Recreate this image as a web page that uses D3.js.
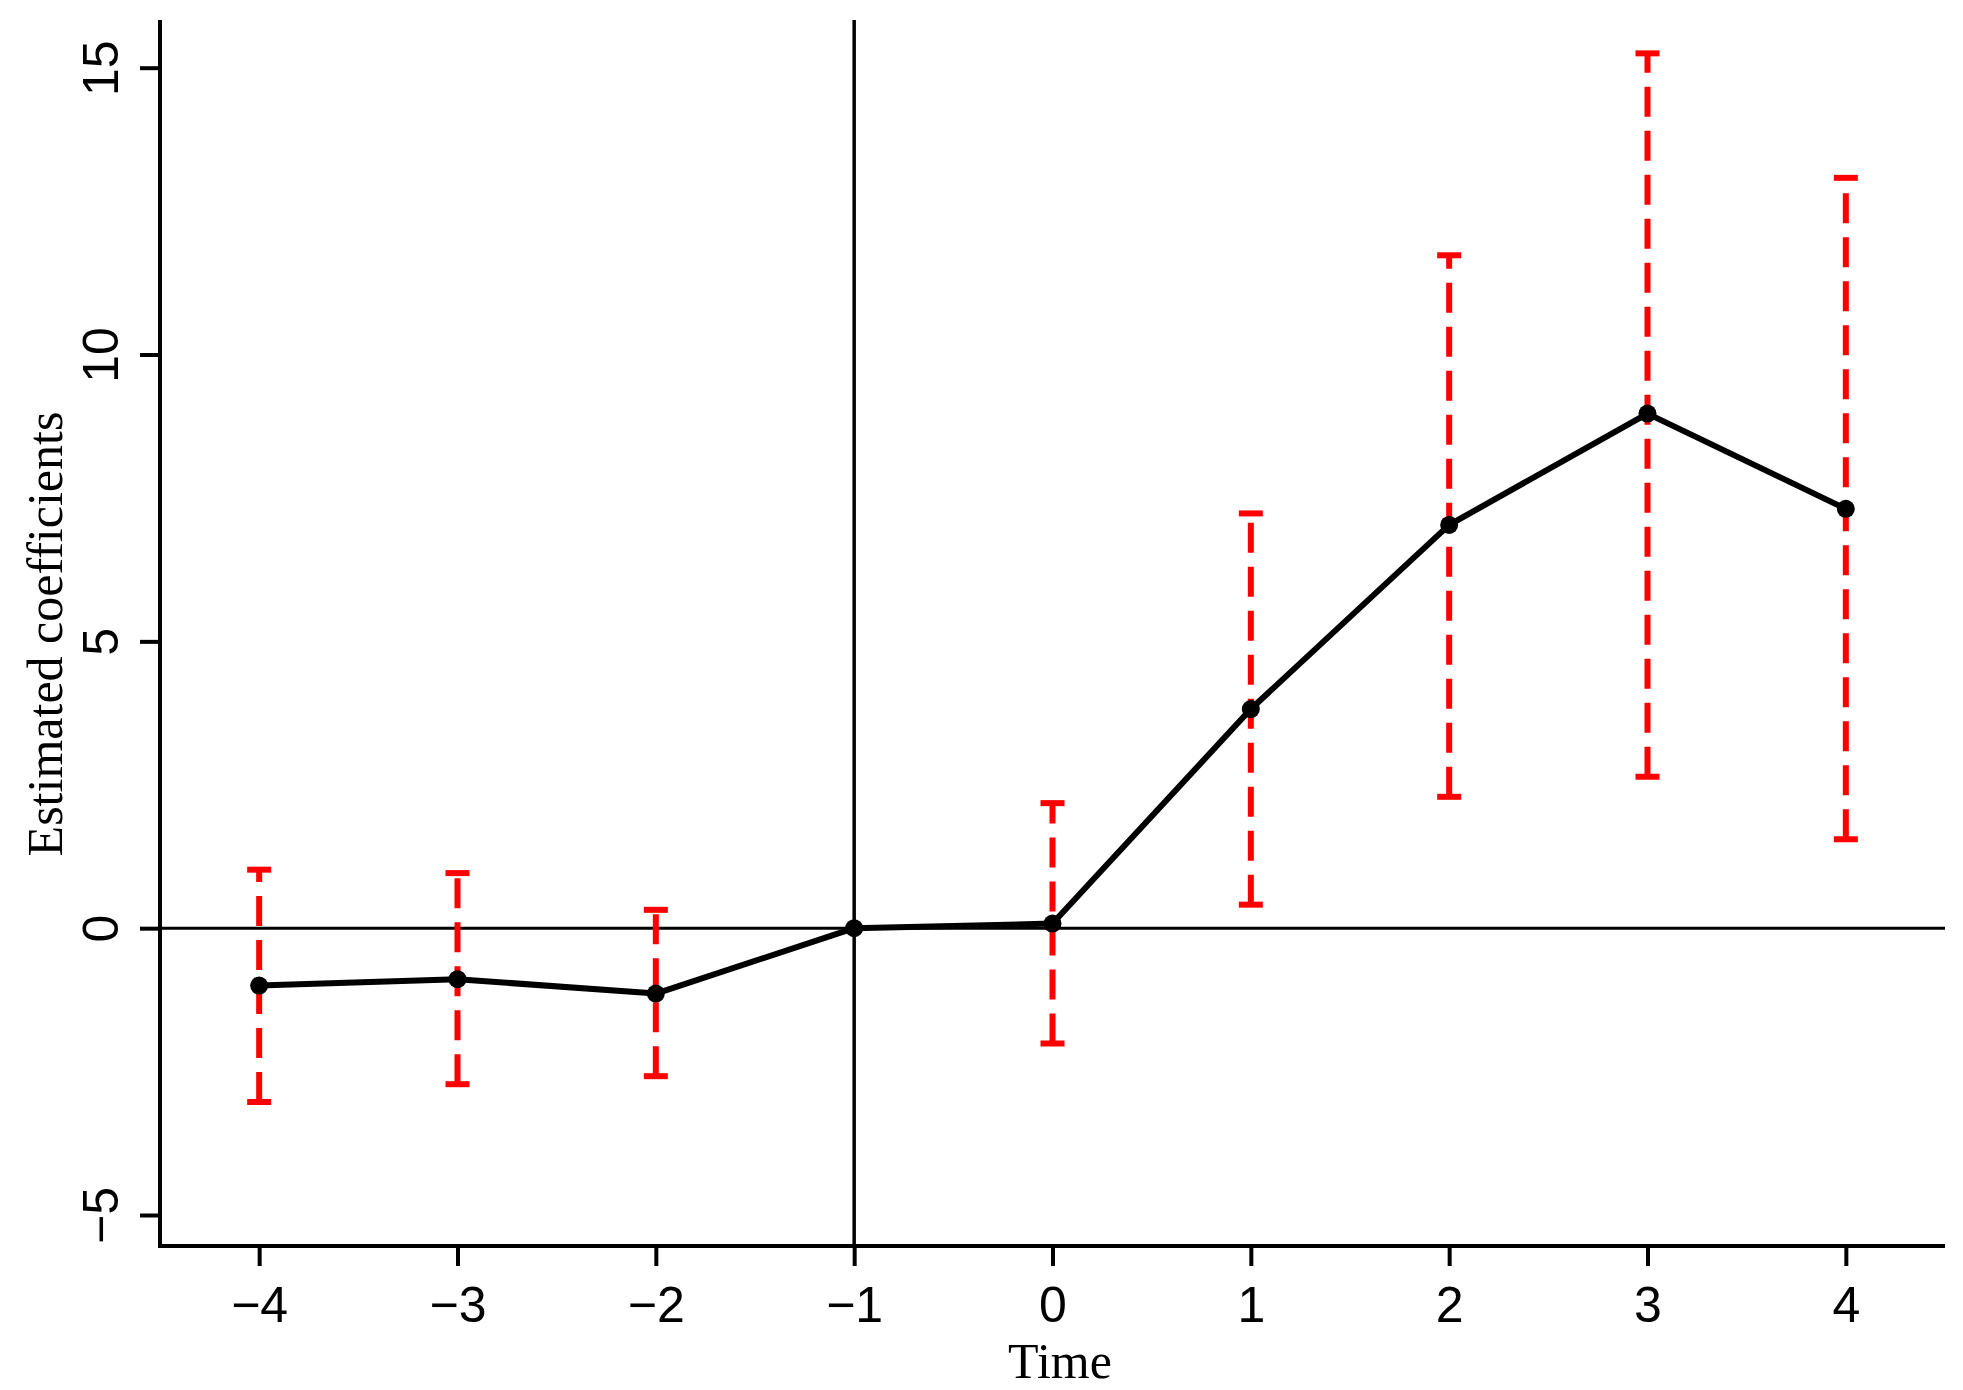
<!DOCTYPE html>
<html>
<head>
<meta charset="utf-8">
<script src="https://cdn.jsdelivr.net/npm/d3@7"></script>
<style>
  html, body { margin: 0; padding: 0; background: #fff; }
  svg { display: block; }
</style>
</head>
<body>
<svg id="chart" width="1963" height="1390"></svg>
<script>
// ---- Data ----
const time = [-4, -3, -2, -1, 0, 1, 2, 3, 4];
const estimate = [-1.00, -0.89, -1.14, 0, 0.08, 3.82, 7.03, 8.97, 7.31];
const lower = [-3.03, -2.72, -2.58, null, -2.01, 0.41, 2.29, 2.64, 1.55];
const upper = [1.02, 0.96, 0.32, null, 2.18, 7.23, 11.73, 15.25, 13.08];
const xTicks = [-4, -3, -2, -1, 0, 1, 2, 3, 4];
const yTicks = [-5, 0, 5, 10, 15];
const xTitle = "Time";
const yTitle = "Estimated coefficients";

(function () {
// ---- Layout ----
const pL = 160, pR = 1945, pT = 20, pB = 1246;

const svg = d3.select("#chart");

const x = d3.scaleLinear().domain([-4.5, 4.5]).range([pL, pR]);
const y = d3.scaleLinear().domain([-5, 15]).range([1215, 67.7]);

const sans = "'Liberation Sans', Arial, Helvetica, sans-serif";
const serif = "'Liberation Serif', 'Times New Roman', Times, serif";

// Reference lines
svg.append("line")
  .attr("x1", pL).attr("x2", pR)
  .attr("y1", y(0)).attr("y2", y(0))
  .attr("stroke", "#000").attr("stroke-width", 3);
svg.append("line")
  .attr("x1", x(-1)).attr("x2", x(-1))
  .attr("y1", pT).attr("y2", pB)
  .attr("stroke", "#000").attr("stroke-width", 3.5);

// Error bars
const eb = time.map((t, i) => ({ t, lo: lower[i], hi: upper[i] })).filter(d => d.lo !== null);
const capW = 12;
svg.append("g").selectAll("line").data(eb).join("line")
  .attr("x1", d => x(d.t)).attr("x2", d => x(d.t))
  .attr("y1", d => y(d.lo)).attr("y2", d => y(d.hi))
  .attr("stroke", "#ff0000").attr("stroke-width", 6)
  .attr("stroke-dasharray", "30,14");
svg.append("g").selectAll("line").data(eb).join("line")
  .attr("x1", d => x(d.t) - capW).attr("x2", d => x(d.t) + capW)
  .attr("y1", d => y(d.lo)).attr("y2", d => y(d.lo))
  .attr("stroke", "#ff0000").attr("stroke-width", 6);
svg.append("g").selectAll("line").data(eb).join("line")
  .attr("x1", d => x(d.t) - capW).attr("x2", d => x(d.t) + capW)
  .attr("y1", d => y(d.hi)).attr("y2", d => y(d.hi))
  .attr("stroke", "#ff0000").attr("stroke-width", 6);

// Estimate line
const pts = time.map((t, i) => ({ t, v: estimate[i] }));
svg.append("path")
  .datum(pts)
  .attr("fill", "none").attr("stroke", "#000").attr("stroke-width", 6)
  .attr("stroke-linejoin", "round")
  .attr("d", d3.line().x(d => x(d.t)).y(d => y(d.v)));
svg.append("g").selectAll("circle").data(pts).join("circle")
  .attr("cx", d => x(d.t)).attr("cy", d => y(d.v)).attr("r", 9)
  .attr("fill", "#000");

// Axes frame (L shape)
svg.append("path")
  .attr("d", `M${pL},${pT} V${pB} H${pR}`)
  .attr("fill", "none").attr("stroke", "#000").attr("stroke-width", 4)
  .attr("stroke-linejoin", "miter");

const fmt = d => d < 0 ? "\u2212" + Math.abs(d) : String(d);

// X axis ticks + labels
const xAxis = d3.axisBottom(x).tickValues(xTicks).tickSize(20).tickPadding(0).tickFormat(fmt);
const gx = svg.append("g").attr("transform", `translate(0,${pB})`).call(xAxis);
gx.select(".domain").remove();
gx.selectAll(".tick line").attr("stroke", "#000").attr("stroke-width", 4);
gx.selectAll(".tick text")
  .attr("y", 76).attr("dy", null)
  .attr("fill", "#000")
  .style("font-family", sans).style("font-size", "50px");

// Y axis ticks + labels
const yAxis = d3.axisLeft(y).tickValues(yTicks).tickSize(20).tickPadding(0).tickFormat(fmt);
const gy = svg.append("g").attr("transform", `translate(${pL},0)`).call(yAxis);
gy.select(".domain").remove();
gy.selectAll(".tick line").attr("stroke", "#000").attr("stroke-width", 4);
gy.selectAll(".tick text")
  .attr("x", null).attr("dy", null)
  .attr("transform", "translate(-42,0) rotate(-90)")
  .attr("text-anchor", "middle")
  .attr("fill", "#000")
  .style("font-family", sans).style("font-size", "50px");

// Titles
svg.append("text")
  .attr("x", 1060).attr("y", 1378)
  .attr("text-anchor", "middle")
  .style("font-family", serif).style("font-size", "50px")
  .attr("fill", "#000")
  .text(xTitle);
svg.append("text")
  .attr("transform", `translate(62,634) rotate(-90)`)
  .attr("text-anchor", "middle")
  .style("font-family", serif).style("font-size", "50px")
  .attr("fill", "#000")
  .text(yTitle);
})();
</script>
</body>
</html>
